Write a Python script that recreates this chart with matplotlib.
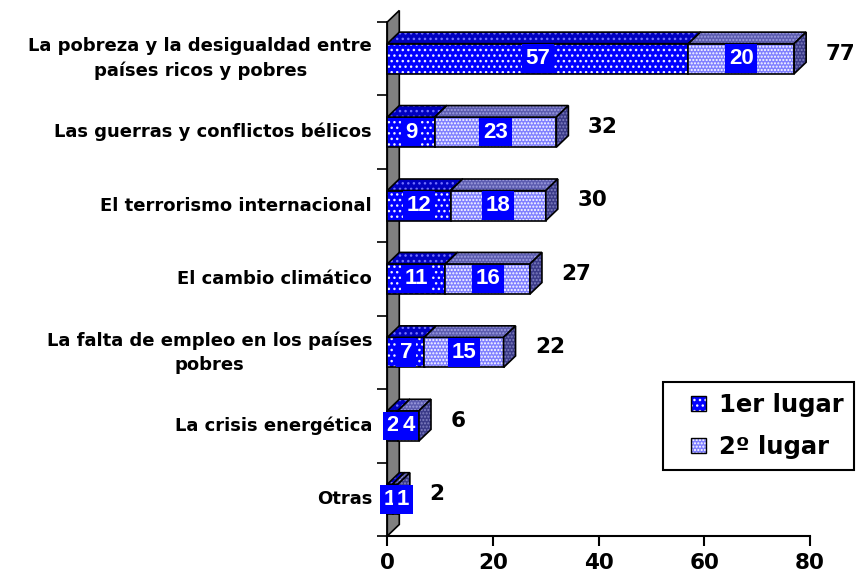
import matplotlib
matplotlib.use('Agg')
import matplotlib.pyplot as plt
from matplotlib.patches import Polygon, Patch, Rectangle
from matplotlib.legend_handler import HandlerTuple, HandlerPatch

# ---------------- data ----------------
categories = ["Otras",
              "La crisis energética",
              "La falta de empleo en los países\npobres",
              "El cambio climático",
              "El terrorismo internacional",
              "Las guerras y conflictos bélicos",
              "La pobreza y la desigualdad entre\npaíses ricos y pobres"]
primer = [1, 2, 7, 11, 12, 9, 57]
segundo = [1, 4, 15, 16, 18, 23, 20]
totales = [2, 6, 22, 27, 30, 32, 77]
series_names = ["1er lugar", "2º lugar"]
xticks = [0, 20, 40, 60, 80]

# ---------------- styles ----------------
DX, DY, H = 2.27, 0.157, 0.41
LABEL_GAP = 2.5  # minimal distance between two segment labels (data units)
styles = [
    dict(front=('#0000FF', '...', '#F0F0FF'), top=('#0000C0', '...', '#7070FF'), side=('#000090', '...', '#6060C0')),
    dict(front=('#8080FF', '.....', '#FFFFFF'), top=('#5C5CB0', '.....', '#A0A0E0'), side=('#3A3A88', '.....', '#8080C0')),
]
plt.rcParams['hatch.linewidth'] = 1.0

fig = plt.figure(figsize=(8.6, 5.79), dpi=100)
ax = fig.add_axes([387.3/860, 43/579, 422.7/860, 514/579])
ax.set_xlim(0, 80)
ax.set_ylim(-0.5, 6.5)


def face(verts, spec, z):
    fc, hatch, hc = spec
    ax.add_patch(Polygon(verts, closed=True, facecolor=fc, hatch=hatch,
                         edgecolor=hc, linewidth=0, zorder=z, clip_on=False))
    ax.add_patch(Polygon(verts, closed=True, fill=False, edgecolor='black',
                         linewidth=1.2, zorder=z, clip_on=False))


# grey wall
wall = [(0, -0.5), (DX, -0.5 + DY), (DX, 6.5 + DY), (0, 6.5)]
ax.add_patch(Polygon(wall, closed=True, facecolor='#808080', edgecolor='black',
                     linewidth=1.2, zorder=2, clip_on=False))

label_args = dict(color='white', fontweight='bold', fontsize=16, family='Liberation Sans',
                  ha='center', va='center', zorder=8,
                  bbox=dict(boxstyle='square,pad=0.17', fc='#0000FF', ec='none'))

for i in range(len(categories)):
    x0 = 0
    y = i
    for s, vals in enumerate([primer, segundo]):
        v = vals[i]
        x1 = x0 + v
        yb, yt = y - H / 2, y + H / 2
        st = styles[s]
        face([(x0, yb), (x1, yb), (x1, yt), (x0, yt)], st['front'], 3)
        face([(x0, yt), (x0 + DX, yt + DY), (x1 + DX, yt + DY), (x1, yt)], st['top'], 3)
        face([(x1, yb), (x1 + DX, yb + DY), (x1 + DX, yt + DY), (x1, yt)], st['side'], 3)
        x0 = x1
    # value labels
    x0 = 0
    prev = None
    for vals in [primer, segundo]:
        v = vals[i]
        xc = x0 + v / 2
        if prev is not None:
            xc = max(xc, prev + LABEL_GAP)
        ax.text(xc, y, str(v), **label_args)
        prev = xc
        x0 += v
    ax.text(totales[i] + 6.0, y + 0.07, str(totales[i]), fontsize=15.5, fontweight='bold',
            family='DejaVu Sans', ha='left', va='center', clip_on=False)

# axes
for sp in ['top', 'right']:
    ax.spines[sp].set_visible(False)
ax.spines['bottom'].set_linewidth(1.5)
ax.spines['left'].set_linewidth(1.2)
ax.spines['left'].set_zorder(2.5)

ax.set_xticks(xticks)
ax.set_xticklabels([str(t) for t in xticks], fontsize=15.5, fontweight='bold', family='DejaVu Sans')
ax.tick_params(axis='x', length=7, width=1.5, pad=5)

ax.set_yticks(range(len(categories)))
ax.set_yticklabels(categories, fontsize=13, fontweight='bold', family='DejaVu Sans')
for t in ax.get_yticklabels():
    t.set_multialignment('center')
    t.set_linespacing(1.45)
    t.set_va('center')
ax.tick_params(axis='y', which='major', length=0, pad=11)
ax.set_yticks([i - 0.5 for i in range(len(categories) + 1)], minor=True)
ax.tick_params(axis='y', which='minor', length=7, width=1.2)


# legend
def square(legend, orig_handle, xdescent, ydescent, width, height, fontsize):
    s = 10.5
    return Rectangle((-xdescent + width - s, -ydescent + (height - s) / 2), s, s)


handles = []
for st in styles:
    fc, hatch, hc = st['front']
    handles.append((Patch(facecolor=fc, hatch=hatch, edgecolor=hc, linewidth=0),
                    Patch(fill=False, edgecolor='black', linewidth=1)))
leg = ax.legend(handles, series_names,
                handler_map={tuple: HandlerTuple(ndivide=1), Patch: HandlerPatch(patch_func=square)},
                loc='upper left', bbox_to_anchor=(663/860, 1 - 382/579),
                bbox_transform=fig.transFigure, borderaxespad=0, frameon=True,
                fancybox=False, edgecolor='black', framealpha=1,
                prop={'family': 'DejaVu Sans', 'weight': 'bold', 'size': 17.5},
                handlelength=1.3, handleheight=0.7, handletextpad=0.55,
                labelspacing=0.75, borderpad=0.45)
leg.get_frame().set_linewidth(1.5)
leg.set_zorder(10)

fig.savefig('out.png', dpi=100)
